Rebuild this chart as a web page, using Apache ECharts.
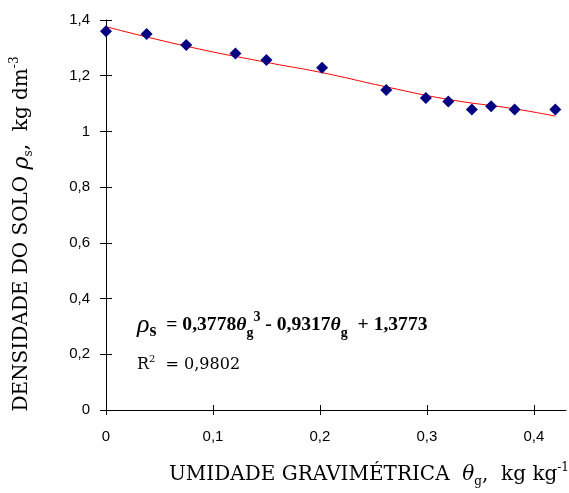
<!DOCTYPE html>
<html>
<head>
<meta charset="utf-8">
<script src="https://cdn.jsdelivr.net/npm/echarts@6/dist/echarts.min.js"></script>
<style>
  html, body { margin: 0; padding: 0; background: #fff; }
  #chart { width: 569px; height: 493px; }
</style>
</head>
<body>
<div id="chart"></div>
<script>
// pontos medidos (umidade gravimetrica, densidade do solo)
const umidade = [0, 0.038, 0.075, 0.121, 0.15, 0.202, 0.262, 0.299, 0.32, 0.342, 0.36, 0.382, 0.42]
const densidade = [1.36, 1.35, 1.31, 1.28, 1.256, 1.229, 1.149, 1.12, 1.107, 1.079, 1.09, 1.079, 1.079]

// linha de tendencia
const tendX = [0, 0.075, 0.15, 0.202, 0.262, 0.32, 0.382, 0.42]
const tendY = [1.376, 1.306, 1.248, 1.211, 1.160, 1.115, 1.081, 1.055]

const xTicks = [0, 0.1, 0.2, 0.3, 0.4]

const serif = 'DejaVu Serif'
const serif2 = 'Liberation Serif'
const sans = 'Liberation Sans'

const fmt = v => String(Math.round(v * 10) / 10).replace('.', ',')

const chart = echarts.init(document.getElementById('chart'))

const baseX = {
  type: 'value', min: 0, max: 0.43, splitLine: { show: false }
}
const baseY = {
  type: 'value', min: 0, max: 1.4, interval: 0.2, splitLine: { show: false }
}

chart.setOption({
  backgroundColor: '#fff',
  animation: false,
  grid: { left: 106, right: 3, top: 20, bottom: 83 },
  xAxis: [
    Object.assign({}, baseX, {
      axisLine: { lineStyle: { color: '#000', width: 1 } },
      axisTick: { show: true, length: 5, customValues: xTicks, lineStyle: { color: '#000' } },
      axisLabel: {
        customValues: xTicks, formatter: fmt, margin: 19,
        color: '#000', fontFamily: sans, fontSize: 15
      }
    }),
    Object.assign({}, baseX, {
      position: 'bottom',
      axisLine: { show: false },
      axisTick: { show: true, inside: true, length: 5, customValues: xTicks, lineStyle: { color: '#000' } },
      axisLabel: { show: false }
    })
  ],
  yAxis: [
    Object.assign({}, baseY, {
      axisLine: { show: true, lineStyle: { color: '#000', width: 1 } },
      axisTick: { show: true, length: 6, lineStyle: { color: '#000' } },
      axisLabel: { formatter: fmt, margin: 16, color: '#000', fontFamily: sans, fontSize: 15 }
    }),
    Object.assign({}, baseY, {
      position: 'left',
      axisLine: { show: false },
      axisTick: { show: true, inside: true, length: 6, lineStyle: { color: '#000' } },
      axisLabel: { show: false }
    })
  ],
  series: [
    {
      type: 'line',
      smooth: true,
      data: tendX.map((x, i) => [x, tendY[i]]),
      symbol: 'none',
      lineStyle: { color: '#ff0000', width: 1 },
      z: 2
    },
    {
      type: 'scatter',
      data: umidade.map((x, i) => [x, densidade[i]]),
      symbol: 'diamond',
      symbolSize: 12,
      itemStyle: { color: '#000080', opacity: 1 },
      z: 3
    }
  ],
  graphic: [
    {
      type: 'text',
      x: 22, y: 234,
      rotation: Math.PI / 2,
      style: {
        text: 'DENSIDADE DO SOLO {g|ρ}{sub|s},  kg dm{sup|-3}',
        fontFamily: serif, fontSize: 20, fill: '#000',
        align: 'center', verticalAlign: 'middle',
        rich: {
          g: { fontFamily: serif, fontSize: 22, fontStyle: 'italic', lineHeight: 26 },
          sub: { fontFamily: serif, fontSize: 12, verticalAlign: 'bottom', lineHeight: 26 },
          sup: { fontFamily: serif, fontSize: 12, verticalAlign: 'top', lineHeight: 26 }
        }
      }
    },
    {
      type: 'text',
      right: 0, top: 462,
      style: {
        text: 'UMIDADE GRAVIMÉTRICA  {g|θ}{sub|g},  kg kg{sup|-1}',
        fontFamily: serif, fontSize: 20, fill: '#000',
        rich: {
          g: { fontFamily: serif, fontSize: 20, fontStyle: 'italic', lineHeight: 26 },
          sub: { fontFamily: serif, fontSize: 12, verticalAlign: 'bottom', lineHeight: 26 },
          sup: { fontFamily: serif, fontSize: 12, verticalAlign: 'top', lineHeight: 26 }
        }
      }
    },
    {
      type: 'text',
      left: 137, top: 310,
      style: {
        text: '{r|ρ}{rs|s}  = 0,3778{t|θ}{sub|g}{sup|3} - 0,9317{t|θ}{sub|g}  + 1,3773',
        fontFamily: serif2, fontSize: 19.6, fontWeight: 'bold', fill: '#000',
        rich: {
          r: { fontFamily: serif2, fontSize: 26, fontStyle: 'italic', lineHeight: 30 },
          rs: { fontFamily: serif2, fontSize: 18, fontWeight: 'bold', verticalAlign: 'bottom', lineHeight: 30 },
          t: { fontFamily: serif2, fontSize: 19.6, fontStyle: 'italic', fontWeight: 'bold', lineHeight: 30 },
          sub: { fontFamily: serif2, fontSize: 14, fontWeight: 'bold', verticalAlign: 'bottom', lineHeight: 28 },
          sup: { fontFamily: serif2, fontSize: 14, fontWeight: 'bold', verticalAlign: 'top', lineHeight: 30 }
        }
      }
    },
    {
      type: 'text',
      left: 137, top: 354,
      style: {
        text: 'R{sup|2}  = 0,9802',
        fontFamily: serif, fontSize: 16, fill: '#000',
        rich: {
          sup: { fontFamily: serif, fontSize: 10, verticalAlign: 'top', lineHeight: 22 }
        }
      }
    }
  ]
})
</script>
</body>
</html>
